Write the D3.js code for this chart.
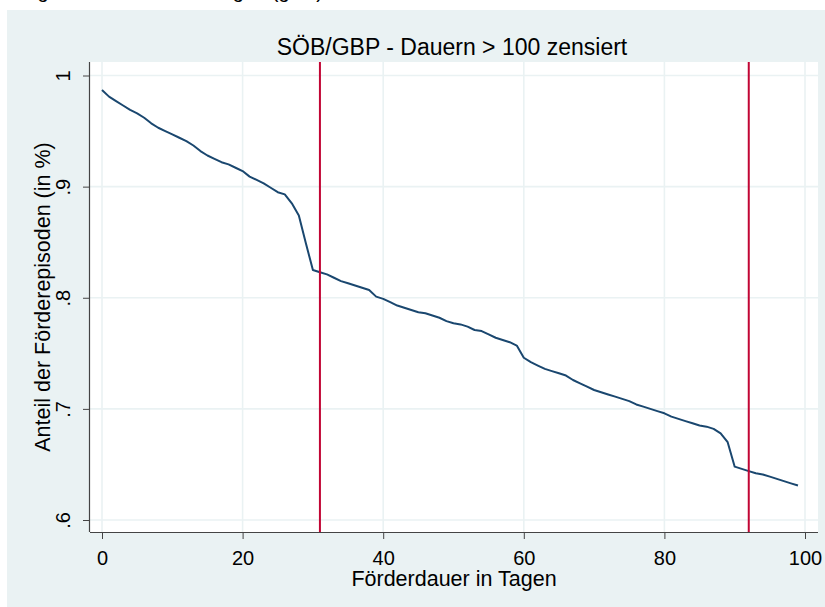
<!DOCTYPE html>
<html><head><meta charset="utf-8">
<script src="https://cdn.jsdelivr.net/npm/d3@7"></script>
<style>html,body{margin:0;padding:0;background:#fff;}svg{display:block;font-family:"Liberation Sans",Arial,sans-serif;}</style>
</head><body><svg id="c" width="825" height="607"></svg>
<script>
const days = d3.range(0, 100);
const share = [0.987,0.981,0.977,0.973,0.969,0.966,0.962,0.957,0.953,0.950,
0.947,0.944,0.941,0.937,0.932,0.928,0.925,0.922,0.920,0.917,
0.914,0.909,0.906,0.903,0.899,0.895,0.893,0.885,0.874,0.849,
0.825,0.823,0.821,0.818,0.815,0.813,0.811,0.809,0.807,0.801,
0.799,0.796,0.793,0.791,0.789,0.787,0.786,0.784,0.782,0.779,
0.777,0.776,0.774,0.771,0.770,0.767,0.764,0.762,0.760,0.757,
0.746,0.742,0.739,0.736,0.734,0.732,0.730,0.726,0.723,0.720,
0.717,0.715,0.713,0.711,0.709,0.707,0.704,0.702,0.700,0.698,
0.696,0.693,0.691,0.689,0.687,0.685,0.684,0.682,0.678,0.670,
0.648,0.646,0.644,0.642,0.641,0.639,0.637,0.635,0.633,0.631];
const refLines = [31, 92];
const xTicks = [0,20,40,60,80,100];
const yTicks = [0.6,0.7,0.8,0.9,1];
const yTickLabels = [".6",".7",".8",".9","1"];
const title = "SÖB/GBP - Dauern > 100 zensiert";
const xTitle = "Förderdauer in Tagen";
const yTitle = "Anteil der Förderepisoden (in %)";
const cutTitle = "Abgelaufene Dauer in Tagen (ges.)";

const svg = d3.select("#c");
const P = {l:90, r:818, t:62, b:532};
const x = d3.scaleLinear().domain([0,100]).range([102,805]);
const y = d3.scaleLinear().domain([0.6,1]).range([520,75.5]);
const FONT = "Liberation Sans, Arial, sans-serif";

svg.append("rect").attr("x",7).attr("y",10).attr("width",818).attr("height",597).attr("fill","#eaf2f3");
svg.append("text").attr("x",13).attr("y",-2.5).attr("font-size",20).attr("fill","#000").attr("font-family",FONT).text(cutTitle);
svg.append("rect").attr("x",P.l).attr("y",P.t).attr("width",P.r-P.l).attr("height",P.b-P.t).attr("fill","#fff");

// grid
svg.append("g").selectAll("line").data(xTicks).join("line")
  .attr("x1",d=>x(d)).attr("x2",d=>x(d)).attr("y1",P.t).attr("y2",P.b)
  .attr("stroke","#eaf2f3").attr("stroke-width",1.6);
svg.append("g").selectAll("line").data(yTicks).join("line")
  .attr("x1",P.l).attr("x2",P.r).attr("y1",d=>y(d)).attr("y2",d=>y(d))
  .attr("stroke","#eaf2f3").attr("stroke-width",1.6);

// curve
svg.append("path").datum(days.map((d,i)=>[d,share[i]]))
  .attr("d", d3.line().x(d=>x(d[0])).y(d=>y(d[1])))
  .attr("fill","none").attr("stroke","#1a476f").attr("stroke-width",2).attr("stroke-linejoin","round");

// ref lines
svg.append("g").selectAll("line").data(refLines).join("line")
  .attr("x1",d=>x(d)).attr("x2",d=>x(d)).attr("y1",P.t).attr("y2",P.b)
  .attr("stroke","#c10534").attr("stroke-width",2);

// axes
const xa = svg.append("g").attr("transform",`translate(0,${P.b})`)
  .call(d3.axisBottom(x).tickValues(xTicks).tickSize(7).tickPadding(5).tickFormat(d3.format("d")));
xa.select(".domain").attr("d",`M${P.l},0.5H${P.r}`).attr("stroke","#444").attr("stroke-width",1.2);
xa.selectAll(".tick line").attr("stroke","#444");
xa.selectAll("text").attr("font-size",20).attr("fill","#000").attr("font-family",FONT)
  .attr("dy",null).attr("y",33);

const ya = svg.append("g").attr("transform",`translate(${P.l},0)`)
  .call(d3.axisLeft(y).tickValues(yTicks).tickSize(7).tickFormat((d,i)=>yTickLabels[i]));
ya.select(".domain").attr("d",`M-0.5,${P.t}V${P.b}`).attr("stroke","#444").attr("stroke-width",1.2);
ya.selectAll(".tick line").attr("stroke","#444");
ya.selectAll("text").attr("font-size",20).attr("fill","#000").attr("font-family",FONT)
  .attr("x",null).attr("dy",null).attr("text-anchor","middle")
  .attr("transform","translate(-20,0) rotate(-90)");

svg.append("text").attr("x",452).attr("y",55).attr("text-anchor","middle").attr("font-size",23).attr("font-family",FONT).text(title);
svg.append("text").attr("x",454).attr("y",586).attr("text-anchor","middle").attr("font-size",21.5).attr("font-family",FONT).text(xTitle);
svg.append("text").attr("transform","translate(50,297) rotate(-90)").attr("text-anchor","middle").attr("font-size",21.5).attr("font-family",FONT).text(yTitle);
</script></body></html>
